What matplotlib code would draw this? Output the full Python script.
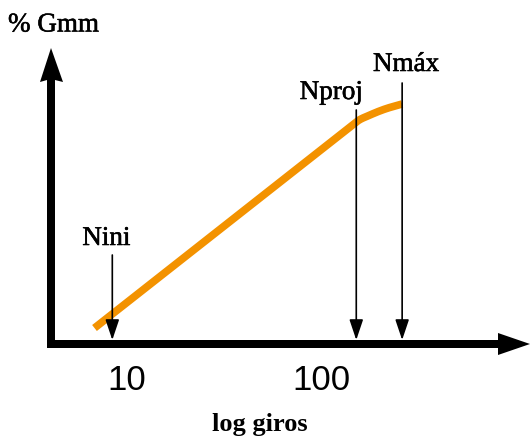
import matplotlib
matplotlib.use("Agg")
import matplotlib.pyplot as plt
import matplotlib.patheffects as pe
from matplotlib.patches import Polygon
import numpy as np

# ---- data (schematic compaction curve) ----
giros = [6.8, 152, 179, 214, 262]            # number of gyrations (log axis)
gmm = [84.8, 95.1, 95.45, 95.75, 96.0]       # % Gmm
marker_names = ["Nini", "Nproj", "Nmáx"]
marker_giros = [8.4, 152, 262]
marker_top = [88.45, 95.7, 97.05]            # top of each marker line (% Gmm)
xtick_values = [10, 100]
xtick_labels = ["10", "100"]
ylabel_text = "% Gmm"
xlabel_text = "log giros"

# label placement offsets (pixels) relative to marker tops
label_dx = [-6, -25, 4]
label_dy = [4, 5, 6]

W, H = 531, 437
fig = plt.figure(figsize=(W / 100, H / 100), dpi=100)

# overlay axes in pixel coordinates for the axis arrows / labels
deco = fig.add_axes([0, 0, 1, 1])
deco.set_xlim(0, W)
deco.set_ylim(H, 0)
deco.axis("off")

# data axes
ax = fig.add_axes([0, 0, 1, 1], facecolor="none")
ax.set_xscale("log")
ax.set_xlim(10 ** 0.3454, 10 ** 3.0825)
ax.set_ylim(79.35, 101.2)
ax.axis("off")

# axis arrows (thick black)
deco.add_patch(Polygon([(47, 347), (47, 80), (40, 82), (51, 48), (63, 82), (55, 80), (55, 347)],
                       closed=True, color="black", lw=0))
deco.add_patch(Polygon([(47, 340), (498, 340), (498, 333), (530, 344), (498, 355), (498, 348), (47, 348)],
                       closed=True, color="black", lw=0))

# orange curve: straight (in log space) up to Nproj, then smooth Hermite segments
lx = np.log10(giros)
gy = np.array(gmm)
sec = np.diff(gy) / np.diff(lx)
tang = np.empty_like(lx)
tang[0] = sec[0]
tang[1] = sec[0]
tang[2:-1] = (sec[1:-1] + sec[2:]) / 2
tang[-1] = sec[-1]
xs, ys = [], []
for i in range(len(lx) - 1):
    h = lx[i + 1] - lx[i]
    t = np.linspace(0, 1, 60)
    h00 = 2 * t**3 - 3 * t**2 + 1
    h10 = t**3 - 2 * t**2 + t
    h01 = -2 * t**3 + 3 * t**2
    h11 = t**3 - t**2
    xs.append(lx[i] + t * h)
    ys.append(h00 * gy[i] + h10 * h * tang[i] + h01 * gy[i + 1] + h11 * h * tang[i + 1])
fx = np.concatenate(xs)
fy = np.concatenate(ys)
ax.plot(10 ** fx, fy, color="#F39200", lw=5.5, solid_capstyle="butt", zorder=2)

heavy = [pe.withStroke(linewidth=0.4, foreground="black")]

# vertical marker arrows
for name, gx, top, ddx, ddy in zip(marker_names, marker_giros, marker_top, label_dx, label_dy):
    ax.annotate("", xy=(gx, 84.0 + 0.2), xytext=(gx, top),
                arrowprops=dict(arrowstyle="-|>,head_length=1.25,head_width=0.42",
                                color="black", lw=1.2, shrinkA=0, shrinkB=0),
                zorder=3)
    ax.annotate(name, xy=(gx, top), xytext=(ddx, ddy), textcoords="offset pixels",
                ha="center", va="bottom", fontsize=19.5, family="Liberation Serif",
                color="black", path_effects=heavy)

# tick labels
for v, lab in zip(xtick_values, xtick_labels):
    ax.annotate(lab, xy=(v, 84.0), xytext=(0, -36), textcoords="offset pixels",
                ha="center", va="center", fontsize=25, family="Liberation Sans", color="black")

deco.text(8, 25, ylabel_text, ha="left", va="center", fontsize=19.5,
          family="Liberation Serif", color="black", path_effects=heavy)
deco.text(260, 424, xlabel_text, ha="center", va="center", fontsize=19,
          family="Liberation Serif", fontweight="bold", color="black")

fig.savefig("out.png", dpi=100)
